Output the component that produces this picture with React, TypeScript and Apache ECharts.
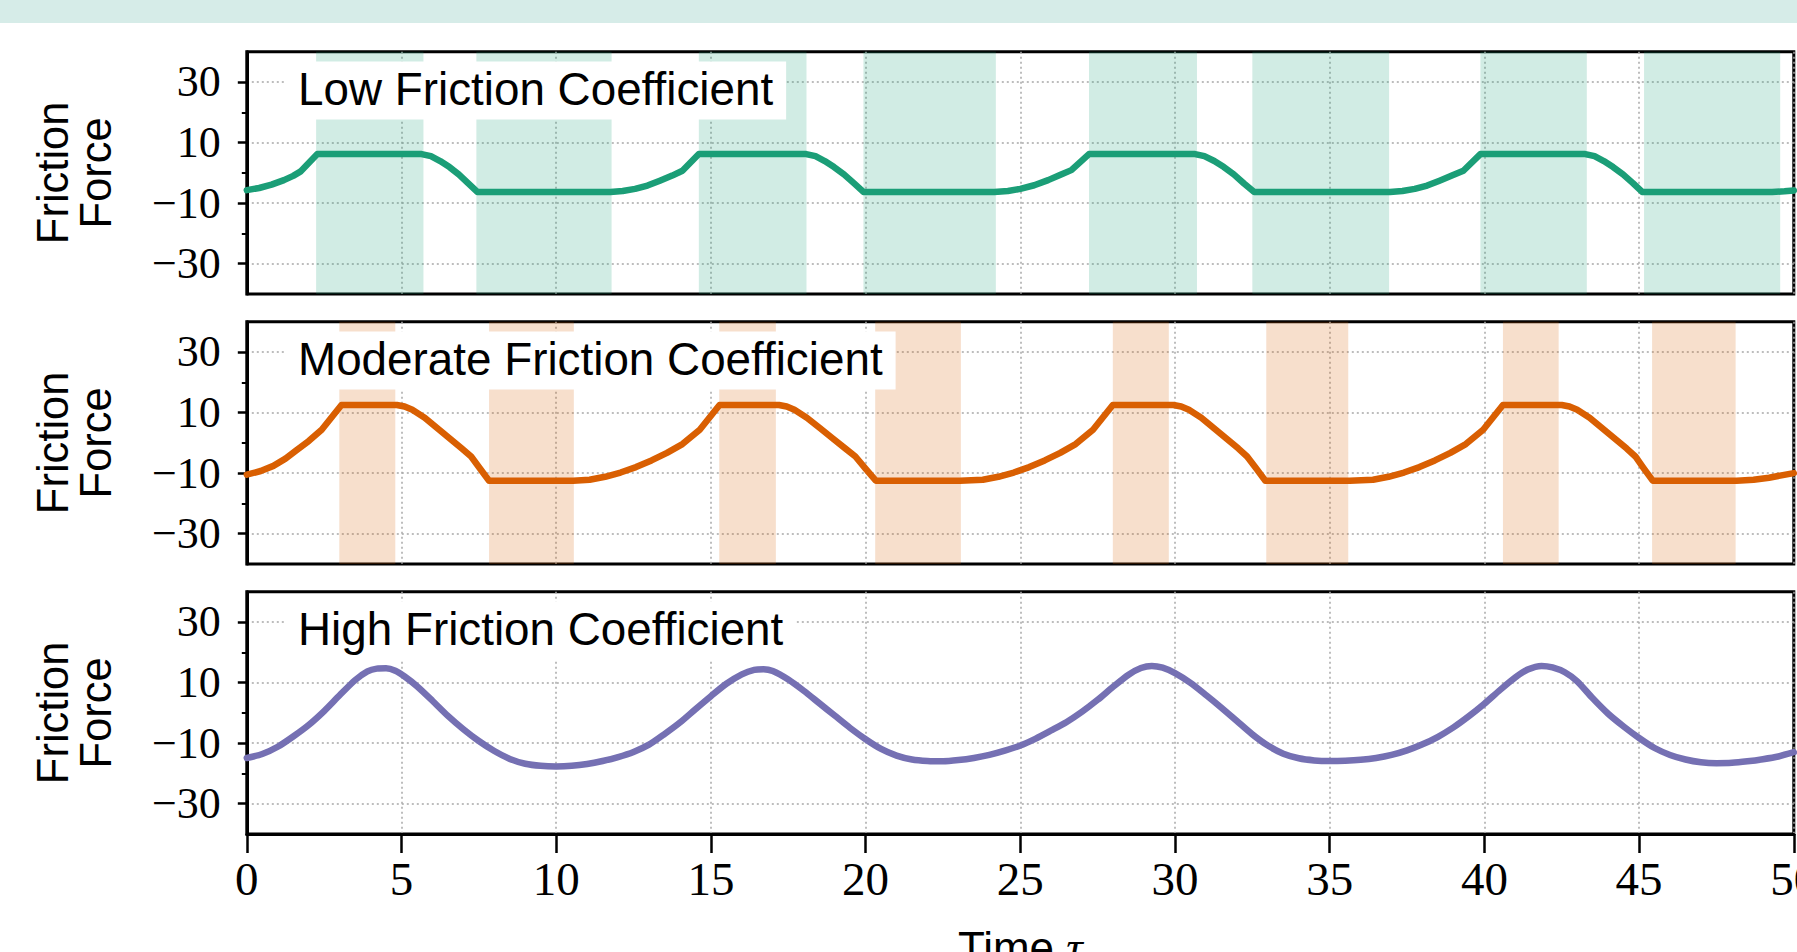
import React, { useEffect, useRef } from "react";
import * as echarts from "echarts";

// ---------- data ----------
const PANEL_TITLES = ["Low Friction Coefficient", "Moderate Friction Coefficient", "High Friction Coefficient"];
const Y_AXIS_NAME = "Friction\nForce";
const X_AXIS_NAME = "Time ";
const X_AXIS_SYMBOL = "τ";
const Y_LABEL_VALUES = [-30, -10, 10, 30];
const Y_MINOR_VALUES = [-20, 0, 20];

const LOW_POINTS = [
  [0, -5.7], [0.4, -5.0], [0.8, -3.9], [1.2, -2.4], [1.5, -1.0], [1.73, 0.4], [2.28, 6.2],
  [5.65, 6.2], [5.95, 5.5], [6.25, 3.9], [6.55, 1.9], [6.85, -0.5], [7.15, -3.4], [7.45, -6.3],
  [11.75, -6.3], [12.15, -6.0], [12.55, -5.3], [12.95, -4.2], [13.35, -2.6], [13.75, -0.9], [14.08, 0.7], [14.61, 6.2],
  [18.08, 6.2], [18.38, 5.5], [18.68, 3.9], [18.98, 1.9], [19.3, -0.5], [19.62, -3.4], [19.93, -6.3],
  [24.16, -6.3], [24.6, -6.0], [25.0, -5.3], [25.45, -4.1], [25.9, -2.4], [26.3, -0.6], [26.65, 0.9], [27.22, 6.2],
  [30.65, 6.2], [30.95, 5.5], [31.27, 3.9], [31.58, 1.9], [31.9, -0.5], [32.23, -3.5], [32.56, -6.3],
  [36.95, -6.3], [37.35, -6.0], [37.75, -5.3], [38.15, -4.2], [38.55, -2.6], [38.95, -0.9], [39.32, 0.7], [39.87, 6.2],
  [43.26, 6.2], [43.56, 5.5], [43.86, 3.9], [44.16, 1.9], [44.48, -0.5], [44.8, -3.4], [45.1, -6.3],
  [49.3, -6.3], [49.7, -6.1], [50, -5.8],
];
const LOW_STICK = [
  [2.24, 5.71], [7.42, 11.79], [14.61, 18.09], [19.93, 24.21],
  [27.22, 30.71], [32.5, 36.92], [39.87, 43.31], [45.16, 49.56],
];

const MOD_POINTS = [
  [0, -10.5], [0.45, -9.3], [0.86, -7.6], [1.25, -5.2], [1.61, -2.4], [2.0, 0.6], [2.42, 4.3], [3.06, 12.5],
  [4.85, 12.5], [5.1, 12.0], [5.35, 10.9], [5.75, 8.3], [6.15, 4.9], [6.55, 1.5], [6.95, -1.9], [7.25, -4.5], [7.53, -8.4], [7.83, -12.5],
  [10.55, -12.5], [11.08, -12.2], [11.58, -11.2], [12.08, -9.8], [12.58, -8.0], [13.08, -5.8], [13.58, -3.3], [14.08, -0.4], [14.64, 4.3], [15.28, 12.5],
  [17.2, 12.5], [17.45, 12.0], [17.7, 10.9], [18.1, 8.3], [18.52, 4.9], [18.93, 1.5], [19.35, -1.9], [19.67, -4.5], [19.99, -8.4], [20.33, -12.5],
  [23.05, -12.5], [23.79, -12.2], [24.29, -11.2], [24.79, -9.8], [25.29, -8.0], [25.79, -5.8], [26.29, -3.3], [26.79, -0.4], [27.35, 4.3], [27.99, 12.5],
  [29.95, 12.5], [30.2, 12.0], [30.45, 10.9], [30.85, 8.3], [31.25, 4.9], [31.65, 1.5], [32.05, -1.9], [32.33, -4.5], [32.62, -8.4], [32.92, -12.5],
  [35.65, -12.5], [36.4, -12.2], [36.9, -11.2], [37.4, -9.8], [37.9, -8.0], [38.4, -5.8], [38.9, -3.3], [39.4, -0.4], [39.96, 4.3], [40.6, 12.5],
  [42.5, 12.5], [42.75, 12.0], [43.0, 10.9], [43.4, 8.3], [43.8, 4.9], [44.2, 1.5], [44.6, -1.9], [44.88, -4.5], [45.15, -8.4], [45.44, -12.5],
  [48.15, -12.5], [48.7, -12.2], [49.2, -11.5], [50, -10.0],
];
const MOD_STICK = [
  [2.99, 4.8], [7.83, 10.57], [15.27, 17.1], [20.31, 23.08],
  [27.99, 29.8], [32.95, 35.6], [40.6, 42.4], [45.42, 48.12],
];

const HIGH_POINTS = [
  [0, -14.9], [0.5, -13.6], [1.0, -11.2], [1.5, -7.8], [2.0, -4.0], [2.5, 0.6], [3.0, 5.8], [3.5, 10.8], [3.9, 13.7],
  [4.2, 14.6], [4.5, 14.7], [4.8, 13.9], [5.1, 12.0], [5.5, 8.8], [6.0, 4.0], [6.5, -1.0], [7.0, -5.4], [7.5, -9.3],
  [8.0, -12.6], [8.5, -15.2], [9.0, -16.8], [9.5, -17.5], [10.0, -17.7], [10.5, -17.5], [11.0, -16.9], [11.5, -15.9],
  [12.0, -14.6], [12.5, -12.9], [13.0, -10.5], [13.5, -7.0], [14.0, -3.2], [14.5, 1.2], [15.0, 5.5], [15.5, 9.6],
  [16.0, 12.7], [16.4, 14.2], [16.7, 14.4], [17.0, 13.8], [17.5, 11.0], [18.0, 7.3], [18.5, 3.2], [19.0, -0.9],
  [19.5, -5.0], [20.0, -8.7], [20.5, -11.9], [21.0, -14.1], [21.5, -15.4], [22.0, -15.9], [22.5, -16.0], [23.0, -15.6],
  [23.5, -14.9], [24.0, -13.9], [24.5, -12.5], [25.0, -10.8], [25.5, -8.5], [26.0, -5.8], [26.5, -3.0], [27.0, 0.4],
  [27.5, 4.3], [28.0, 8.6], [28.5, 12.6], [28.9, 14.8], [29.25, 15.5], [29.6, 14.9], [30.0, 13.1], [30.5, 9.9],
  [31.0, 5.9], [31.5, 1.7], [32.0, -2.7], [32.5, -7.1], [33.0, -10.8], [33.5, -13.5], [34.0, -15.0], [34.5, -15.7],
  [35.0, -15.9], [35.5, -15.8], [36.0, -15.5], [36.5, -14.9], [37.0, -13.9], [37.5, -12.4], [38.0, -10.4], [38.5, -7.9],
  [39.0, -4.8], [39.5, -1.1], [40.0, 3.0], [40.5, 7.5], [41.0, 11.7], [41.4, 14.3], [41.85, 15.5], [42.2, 15.0],
  [42.6, 13.4], [43.0, 10.4], [43.5, 4.8], [44.0, -0.3], [44.5, -4.5], [45.0, -8.3], [45.5, -11.6], [46.0, -13.9],
  [46.5, -15.4], [47.0, -16.3], [47.5, -16.6], [48.0, -16.5], [48.5, -16.0], [49.0, -15.3], [49.5, -14.4], [50.0, -13.0],
];
const HIGH_STICK: number[][] = [];

const PANEL_POINTS = [LOW_POINTS, MOD_POINTS, HIGH_POINTS];
const PANEL_STICK = [LOW_STICK, MOD_STICK, HIGH_STICK];
const LINE_COLORS = ["#1b9e77", "#d95f02", "#7570b3"];
const BAND_COLORS = ["rgba(27,158,119,0.2)", "rgba(217,95,2,0.2)", "rgba(117,112,179,0.2)"];

// ---------- layout ----------
const W = 1797;
const H = 952;
const GRID_LEFT = 246.8;
const GRID_WIDTH = 1547;
const GRID_HEIGHT = 242.3;
const GRID_TOPS = [51.7, 321.7, 591.7];
const SERIF = "'Liberation Serif', 'Times New Roman', serif";
const SANS = "'Liberation Sans', Arial, sans-serif";

const fmtY = (v: number) => (v < 0 ? "\u2212" + Math.abs(v) : String(v));

const gridLineStyle = { color: "#a8a8a8", width: 1.5, type: [2, 3] as any };

function buildOption(): any {
  const grid = GRID_TOPS.map((top) => ({
    left: GRID_LEFT,
    top,
    width: GRID_WIDTH,
    height: GRID_HEIGHT,
    show: true,
    borderColor: "#000",
    borderWidth: 3,
    backgroundColor: "transparent",
    containLabel: false,
    outerBoundsMode: "none",
  }));

  const xAxis = GRID_TOPS.map((_, i) => ({
    type: "value",
    gridIndex: i,
    min: 0,
    max: 50,
    interval: 5,
    axisLine: { show: i === 2, onZero: false, lineStyle: { color: "#000", width: 3 } },
    axisTick: { show: i === 2, length: 19, inside: false, lineStyle: { color: "#000", width: 2.5 } },
    axisLabel: {
      show: i === 2,
      margin: 21,
      fontSize: 47,
      fontFamily: SERIF,
      color: "#000",
      showMinLabel: true,
      showMaxLabel: true,
      hideOverlap: false,
    },
    splitLine: { show: true, lineStyle: gridLineStyle },
  }));

  const yAxis: any[] = [];
  GRID_TOPS.forEach((_, i) => {
    yAxis.push({
      type: "value",
      gridIndex: i,
      position: "left",
      min: -40,
      max: 40,
      interval: 10,
      axisLine: { show: true, onZero: false, lineStyle: { color: "#000", width: 3 } },
      axisTick: {
        show: true,
        customValues: Y_LABEL_VALUES,
        length: 9,
        lineStyle: { color: "#000", width: 2.5 },
      },
      axisLabel: {
        show: true,
        customValues: Y_LABEL_VALUES,
        formatter: fmtY,
        margin: 26,
        fontSize: 44,
        fontFamily: SERIF,
        color: "#000",
      },
      splitLine: { show: true, lineStyle: gridLineStyle },
    });
    yAxis.push({
      type: "value",
      gridIndex: i,
      position: "left",
      offset: 0,
      min: -40,
      max: 40,
      interval: 10,
      axisLine: { show: false, onZero: false },
      axisTick: {
        show: true,
        customValues: Y_MINOR_VALUES,
        length: 5,
        lineStyle: { color: "#000", width: 2 },
      },
      axisLabel: { show: false },
      splitLine: { show: false },
    });
  });

  const series: any[] = [];
  GRID_TOPS.forEach((_, i) => {
    series.push({
      type: "line",
      xAxisIndex: i,
      yAxisIndex: 2 * i,
      data: [],
      z: 1,
      silent: true,
      markArea: {
        silent: true,
        itemStyle: { color: BAND_COLORS[i], borderWidth: 0 },
        data: PANEL_STICK[i].map(([a, b]) => [{ xAxis: a }, { xAxis: b }]),
      },
    });
    series.push({
      type: "line",
      xAxisIndex: i,
      yAxisIndex: 2 * i,
      data: PANEL_POINTS[i],
      showSymbol: false,
      symbol: "none",
      smooth: i === 2 ? 0.25 : false,
      clip: true,
      z: 3,
      lineStyle: { color: LINE_COLORS[i], width: 6.5, cap: "round", join: "round" },
      itemStyle: { color: LINE_COLORS[i] },
    });
  });

  const title = PANEL_TITLES.map((t, i) => ({
    text: t,
    left: 285,
    top: GRID_TOPS[i] + 10.3,
    padding: [5, 13, 7, 13],
    backgroundColor: "#fff",
    z: 10,
    textStyle: { fontFamily: SANS, fontSize: 45.8, fontWeight: "normal", color: "#000", lineHeight: 45 },
  }));

  const graphic: any[] = [
    {
      type: "rect",
      shape: { x: 0, y: 0, width: W, height: 23 },
      style: { fill: "#d6ece8" },
      silent: true,
    },
    ...GRID_TOPS.map((top) => ({
      type: "text",
      x: 74,
      y: top + GRID_HEIGHT / 2,
      rotation: Math.PI / 2,
      silent: true,
      style: {
        text: Y_AXIS_NAME,
        fontFamily: SANS,
        fontSize: 43.5,
        lineHeight: 43,
        fill: "#000",
        align: "center",
        verticalAlign: "middle",
      },
    })),
    {
      type: "text",
      x: GRID_LEFT + GRID_WIDTH / 2,
      y: 924,
      silent: true,
      style: {
        text: "{a|" + X_AXIS_NAME + "}{b|" + X_AXIS_SYMBOL + "}",
        align: "center",
        verticalAlign: "top",
        fill: "#000",
        rich: {
          a: { fontFamily: SANS, fontSize: 44, fill: "#000" },
          b: { fontFamily: SERIF, fontStyle: "italic", fontSize: 46, fill: "#000" },
        },
      },
    },
  ];

  return {
    animation: false,
    backgroundColor: "#fff",
    grid,
    xAxis,
    yAxis,
    series,
    title,
    graphic,
  };
}

export default function App() {
  const ref = useRef<HTMLDivElement>(null);
  useEffect(() => {
    if (!ref.current) return;
    const chart = echarts.init(ref.current, undefined, { renderer: "svg", width: W, height: H });
    chart.setOption(buildOption());
    return () => chart.dispose();
  }, []);
  return (
    <div
      ref={ref}
      style={{ position: "fixed", left: 0, top: 0, width: W + "px", height: H + "px", background: "#fff" }}
    />
  );
}
